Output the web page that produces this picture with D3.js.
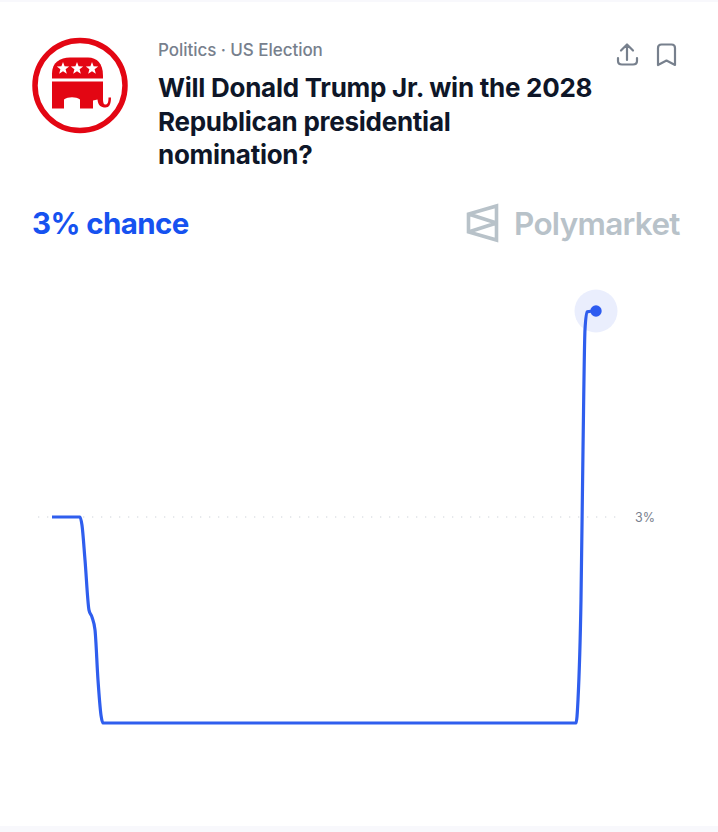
<!DOCTYPE html>
<html><head><meta charset="utf-8">
<script src="https://cdn.jsdelivr.net/npm/d3@7/dist/d3.min.js"></script>
<style>html,body{margin:0;padding:0;background:#fff}svg{display:block}text{font-family:Inter,sans-serif}</style>
</head><body><div id="c"></div>
<script>
const category = "Politics · US Election";
const titleLines = ["Will Donald Trump Jr. win the 2028","Republican presidential","nomination?"];
const headline = "3% chance";
const brand = "Polymarket";
const yTickValues = [3];
// days since series start
const days =   [0,28,30,33,37,40,43,46,49,51,524,526,529,531,533,535,544];
const prices = [3,3,2.98,2.896,2.774,2.757,2.726,2.604,2.519,2.5,2.5,2.556,2.8,3.163,3.455,3.498,3.5];

const W=718,H=832;
const svg=d3.select("#c").append("svg").attr("width",W).attr("height",H);
svg.append("rect").attr("width",W).attr("height",H).attr("fill","#f8f8fc");
svg.append("rect").attr("y",2).attr("width",W).attr("height",824).attr("fill","#fff");

// logo
const red="#e30613";
const logo=svg.append("g").attr("transform","translate(80,85.5)");
logo.append("circle").attr("r",45).attr("fill","#fff").attr("stroke",red).attr("stroke-width",5.5);
logo.append("path").attr("fill",red).attr("d","M-28,-7 L-28,-12 C-28,-23 -20,-28 -10,-28 L8,-28 C17,-28 23,-22 23,-10 L23,-7 Z");
logo.append("path").attr("fill",red).attr("d","M-28,-4 L23,-4 L23,13 C23,18 24,19 25.5,19 C27.5,19 28.5,17 28.5,12 L31,12 C31,19 29,22 25.5,22 C21,22 18,20 17.5,14 L13,15 L13,23 L0,23 L0,14 C-4,11 -12,11 -16,14 L-16,23 L-28,23 Z");
function star(cx,cy,r){const p=[];for(let i=0;i<10;i++){const a=-Math.PI/2+i*Math.PI/5,q=i%2?r*0.42:r;p.push([cx+q*Math.cos(a),cy+q*Math.sin(a)]);}return "M"+p.join("L")+"Z";}
[-17,-3,12].forEach(x=>logo.append("path").attr("fill","#fff").attr("d",star(x,-17,6.5)));

// header text
svg.append("text").attr("x",158).attr("y",55.5).attr("font-size",17).attr("font-weight",500).attr("fill","#77808d").attr("letter-spacing",-0.05).text(category);
titleLines.forEach((t,i)=>svg.append("text").attr("x",158).attr("y",97+i*33.5).attr("font-size",26).attr("font-weight",700).attr("fill","#0e1628").attr("letter-spacing",-0.26).text(t));
svg.append("text").attr("x",32).attr("y",233.5).attr("font-size",29.5).attr("font-weight",700).attr("fill","#1652f0").attr("letter-spacing",-0.6).text(headline);

// icons
const ic=svg.append("g").attr("fill","none").attr("stroke","#77808d").attr("stroke-width",2.2).attr("stroke-linecap","round").attr("stroke-linejoin","round");
ic.append("path").attr("d","M627,60 L627,45.5 M621,50.5 L627,44.5 L633,50.5 M618,58 L618,61 Q618,64.5 622,64.5 L633,64.5 Q637,64.5 637,61 L637,58");
ic.append("path").attr("d","M658,65 L658,48 Q658,44.5 661.5,44.5 L671.5,44.5 Q675,44.5 675,48 L675,65 L666.5,60.5 Z");

// brand
const bg=svg.append("g").attr("fill","none").attr("stroke","#b8c2c9").attr("stroke-width",3.6).attr("stroke-linejoin","miter");
bg.append("path").attr("d","M496.5,206 L496.5,240 L468.5,232 L468.5,214 Z M468.5,214 L496.5,223 M468.5,232 L496.5,223");
svg.append("text").attr("x",514).attr("y",235).attr("font-size",31.5).attr("font-weight",600).attr("fill","#b8c2c9").attr("letter-spacing",-0.7).text(brand);

// chart
const x=d3.scaleLinear().domain([0,544]).range([52,596]);
const y=d3.scaleLinear().domain([2.5,3.5]).range([723,311]);
const lastIdx=days.length-1;
yTickValues.forEach(v=>{
  svg.append("line").attr("x1",38).attr("x2",620).attr("y1",y(v)).attr("y2",y(v)).attr("stroke","#dfe2e6").attr("stroke-width",1.3).attr("stroke-dasharray","1.3 7.7");
  svg.append("text").attr("x",635).attr("y",y(v)+4.5).attr("font-size",12.5).attr("fill","#77808d").text(v+"%");
});
const line=d3.line().x((d,i)=>x(days[i])).y((d)=>y(d)).curve(d3.curveMonotoneX);
svg.append("path").attr("d",line(prices)).attr("fill","none").attr("stroke","#2f5eee").attr("stroke-width",3.2).attr("stroke-linecap","butt").attr("stroke-linejoin","round");
svg.append("circle").attr("cx",x(days[lastIdx])).attr("cy",y(prices[lastIdx])).attr("r",21.5).attr("fill","#2d5bf0").attr("fill-opacity",0.1);
svg.append("circle").attr("cx",x(days[lastIdx])).attr("cy",y(prices[lastIdx])).attr("r",5.7).attr("fill","#2d5bf0");
</script></body></html>
